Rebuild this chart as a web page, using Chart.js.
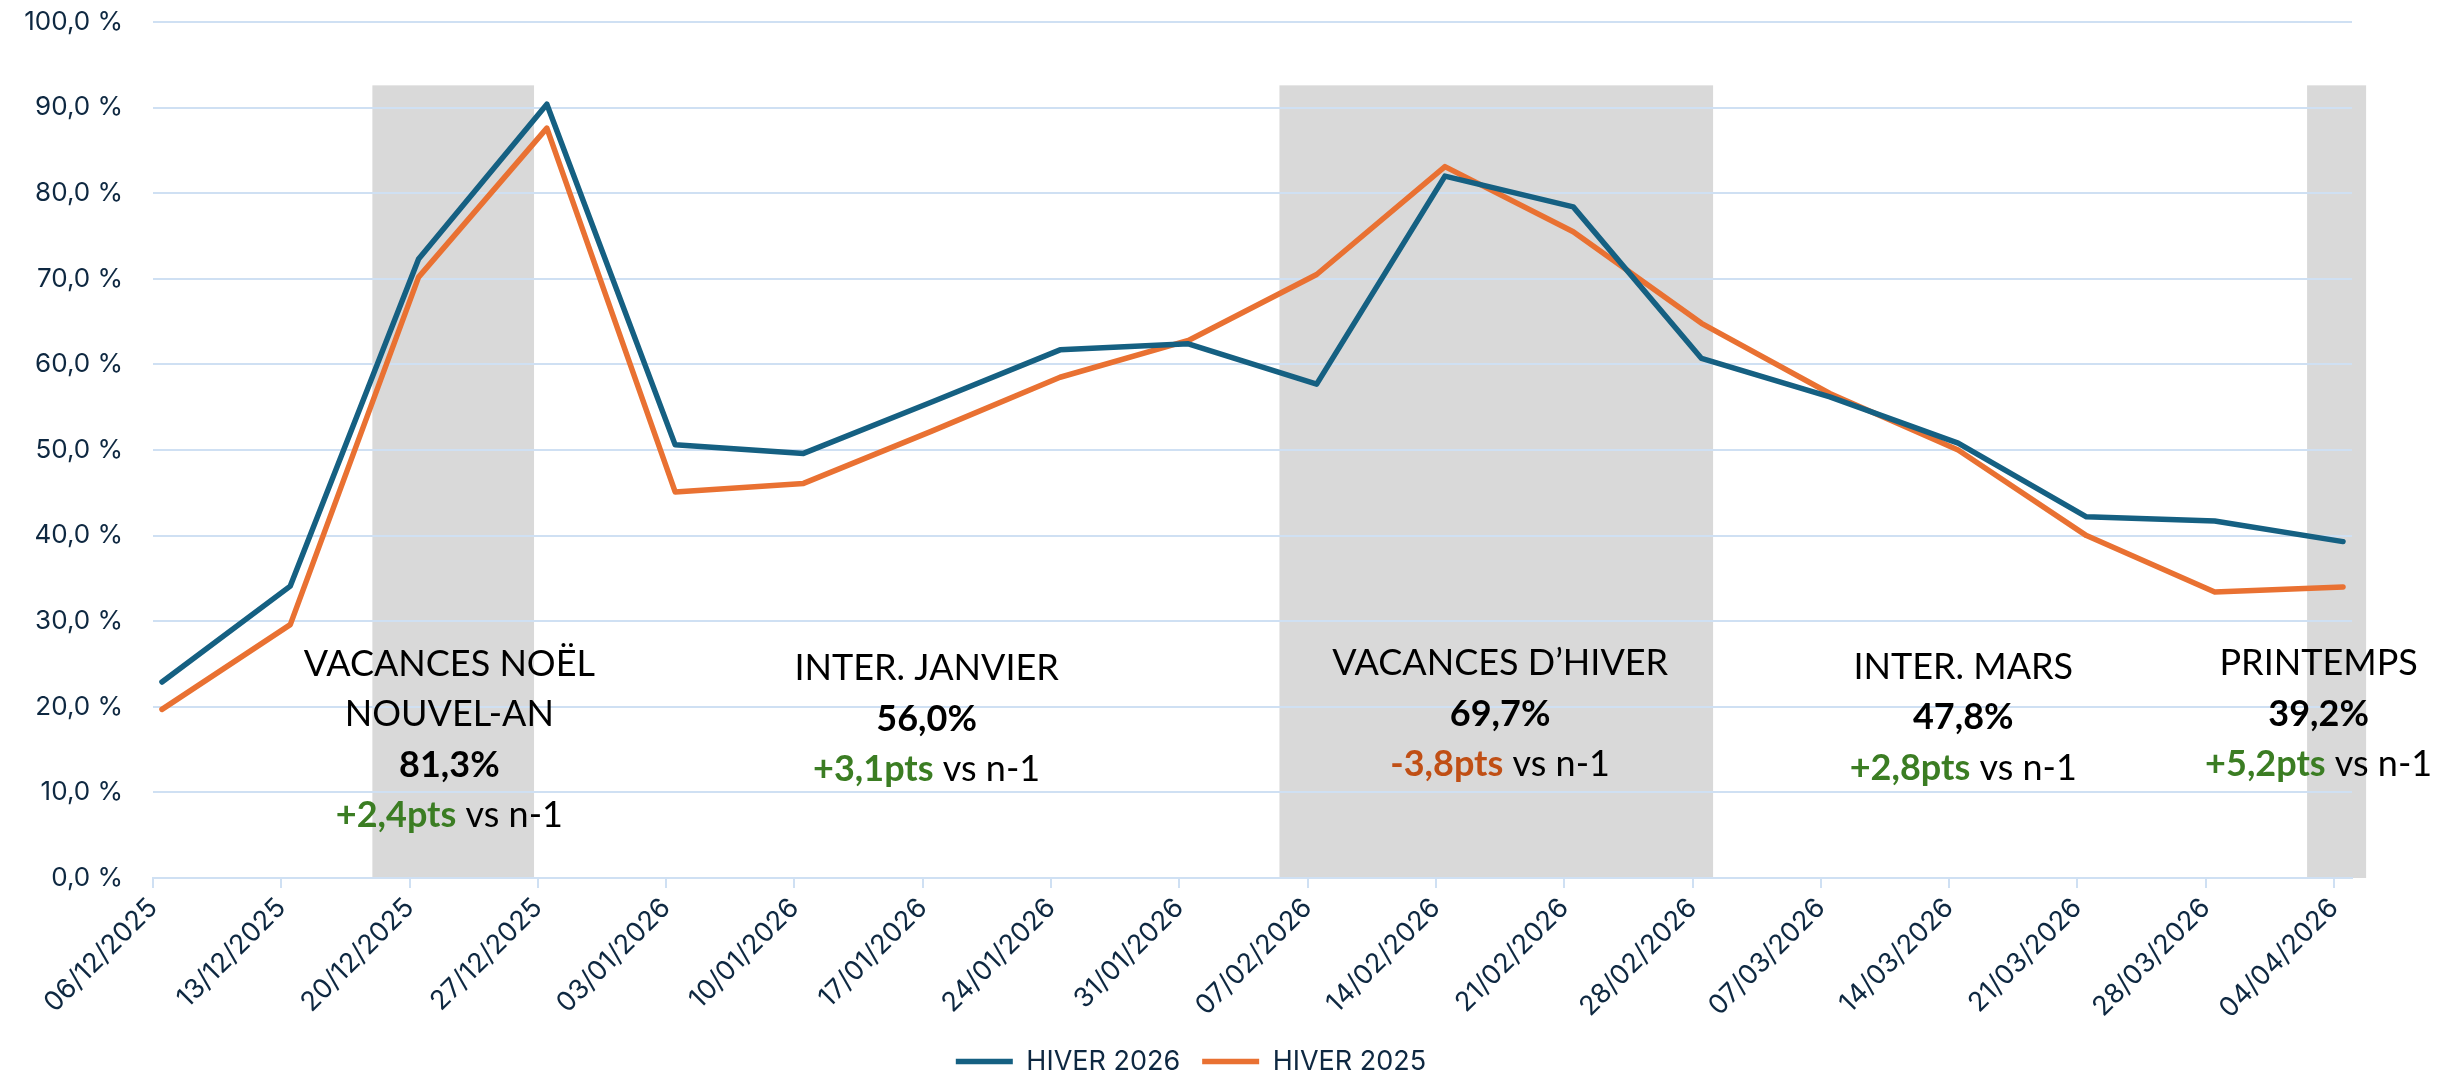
<!DOCTYPE html>
<html>
<head>
<meta charset="utf-8">
<script src="https://cdn.jsdelivr.net/npm/chart.js@4.4.1/dist/chart.umd.min.js"></script>
<style>
  html, body { margin: 0; padding: 0; background: #ffffff; }
  #wrap { width: 2445px; height: 1075px; position: relative; }
</style>
</head>
<body>
<div id="wrap"><canvas id="c" width="2445" height="1075"></canvas></div>
<script>
// ---------- DATA ----------
const weeks = ['06/12/2025','13/12/2025','20/12/2025','27/12/2025','03/01/2026','10/01/2026',
  '17/01/2026','24/01/2026','31/01/2026','07/02/2026','14/02/2026','21/02/2026','28/02/2026',
  '07/03/2026','14/03/2026','21/03/2026','28/03/2026','04/04/2026'];
const hiver2026 = [22.9, 34.1, 72.3, 90.4, 50.6, 49.6, 55.6, 61.7, 62.4, 57.7, 82.0, 78.4, 60.7, 56.2, 50.8, 42.2, 41.7, 39.3];
const hiver2025 = [19.7, 29.6, 70.2, 87.6, 45.1, 46.1, 52.2, 58.5, 62.8, 70.5, 83.1, 75.5, 64.8, 56.6, 50.0, 40.0, 33.4, 34.0];
const seriesNames = ['HIVER 2026', 'HIVER 2025'];

// holiday periods (shaded bands, in week-index units on the x axis)
const holidayStart = [1.64, 8.71, 16.72];
const holidayEnd   = [2.90, 12.09, 17.18];
const bandTop = 92.6;

// period summaries
const periodNames  = [['VACANCES NOËL', 'NOUVEL-AN'], ['INTER. JANVIER'], ['VACANCES D\u2019HIVER'], ['INTER. MARS'], ['PRINTEMPS']];
const periodRates  = [81.3, 56.0, 69.7, 47.8, 39.2];
const periodDeltas = [2.4, 3.1, -3.8, 2.8, 5.2];

// ---------- LAYOUT / STYLE ----------
const labelX = [2.24, 5.96, 10.43, 14.04, 16.81];   // block centre (x units)
const labelY = [23.6, 23.1, 23.7, 23.3, 23.7];      // first baseline (y units)
const lineGap = 50.5;
const BLUE = '#156082', ORANGE = '#E97132';
const GRID = '#cfe0f3';
const AXIS_TEXT = '#0E2841';
const GREEN = '#3B7D23', RED = '#C04F15';
const tickShift = -0.07;

const fmt = v => v.toFixed(1).replace('.', ',');

const bandsAndLabels = {
  id: 'bandsAndLabels',
  beforeDraw(chart) {
    const { ctx, scales: { x, y } } = chart;
    ctx.save();
    ctx.fillStyle = '#d9d9d9';
    const yT = y.getPixelForValue(bandTop), yB = y.getPixelForValue(0);
    holidayStart.forEach((s, i) => {
      const x0 = x.getPixelForValue(s), x1 = x.getPixelForValue(holidayEnd[i]);
      ctx.fillRect(x0, yT, x1 - x0, yB - yT);
    });
    ctx.restore();
  },
  afterDatasetsDraw(chart) {
    const { ctx, scales: { x, y } } = chart;
    ctx.save();
    const REG = '36px Lato', BOLD = 'bold 36px Lato';
    periodNames.forEach((names, i) => {
      const cx = x.getPixelForValue(labelX[i]);
      let by = y.getPixelForValue(labelY[i]);
      ctx.textAlign = 'center';
      ctx.textBaseline = 'alphabetic';
      ctx.fillStyle = '#000000';
      ctx.font = REG;
      names.forEach(n => { ctx.fillText(n, cx, by); by += lineGap; });
      ctx.font = BOLD;
      ctx.fillText(fmt(periodRates[i]) + '%', cx, by);
      by += lineGap;
      const d = periodDeltas[i];
      const t1 = (d >= 0 ? '+' : '-') + fmt(Math.abs(d)) + 'pts';
      const t2 = ' vs n-1';
      ctx.font = BOLD; const w1 = ctx.measureText(t1).width;
      ctx.font = REG;  const w2 = ctx.measureText(t2).width;
      const left = cx - (w1 + w2) / 2;
      ctx.textAlign = 'left';
      ctx.font = BOLD; ctx.fillStyle = d >= 0 ? GREEN : RED;
      ctx.fillText(t1, left, by);
      ctx.font = REG; ctx.fillStyle = '#000000';
      ctx.fillText(t2, left + w1, by);
    });
    ctx.restore();
  }
};

const legendShift = {
  id: 'legendShift',
  afterLayout(chart) {
    const l = chart.legend;
    if (!l) return;
    l.left += 15; l.right += 15;
    l.top += 10; l.bottom += 10;
  }
};

function build() {
  const axisFont = { family: 'Inter', size: 27 };
  new Chart(document.getElementById('c'), {
    type: 'line',
    data: {
      datasets: [
        { label: seriesNames[0], data: hiver2026.map((v, i) => ({ x: i, y: v })),
          borderColor: BLUE, backgroundColor: BLUE, borderWidth: 5.5, pointRadius: 0,
          tension: 0, borderCapStyle: 'round', borderJoinStyle: 'round', pointStyle: 'line' },
        { label: seriesNames[1], data: hiver2025.map((v, i) => ({ x: i, y: v })),
          borderColor: ORANGE, backgroundColor: ORANGE, borderWidth: 5.5, pointRadius: 0,
          tension: 0, borderCapStyle: 'round', borderJoinStyle: 'round', pointStyle: 'line' }
      ]
    },
    options: {
      responsive: false,
      animation: false,
      layout: { padding: { top: 22, right: 93, left: 0, bottom: 0 } },
      plugins: {
        legend: {
          position: 'bottom',
          labels: {
            font: { family: 'Inter', size: 27 }, color: AXIS_TEXT,
            usePointStyle: true, pointStyle: 'line', pointStyleWidth: 57,
            boxHeight: 27, padding: 22
          }
        },
        tooltip: { enabled: false }
      },
      scales: {
        x: {
          type: 'linear',
          min: tickShift, max: 17.07,
          afterBuildTicks: s => { s.ticks = weeks.map((_, i) => ({ value: i + tickShift })); },
          afterFit: s => { s.height = 138; },
          ticks: {
            autoSkip: false, minRotation: 45, maxRotation: 45,
            font: axisFont, color: AXIS_TEXT, padding: 4,
            callback: (v, i) => weeks[i]
          },
          grid: { drawOnChartArea: false, drawTicks: true, tickLength: 10, color: GRID, lineWidth: 2 },
          border: { display: true, color: GRID, width: 2 }
        },
        y: {
          min: 0, max: 100,
          afterFit: s => { s.width = 153; },
          ticks: { stepSize: 10, font: { family: 'Inter', size: 26 }, color: AXIS_TEXT, padding: 6,
                   callback: v => fmt(v) + ' %' },
          grid: { color: GRID, lineWidth: 2, drawTicks: true, tickLength: 24, tickColor: 'rgba(0,0,0,0)' },
          border: { display: false }
        }
      }
    },
    plugins: [bandsAndLabels, legendShift]
  });
}

Promise.all([
  document.fonts.load('36px Lato'), document.fonts.load('bold 36px Lato'), document.fonts.load('27px Inter')
]).then(build, build);
</script>
</body>
</html>
